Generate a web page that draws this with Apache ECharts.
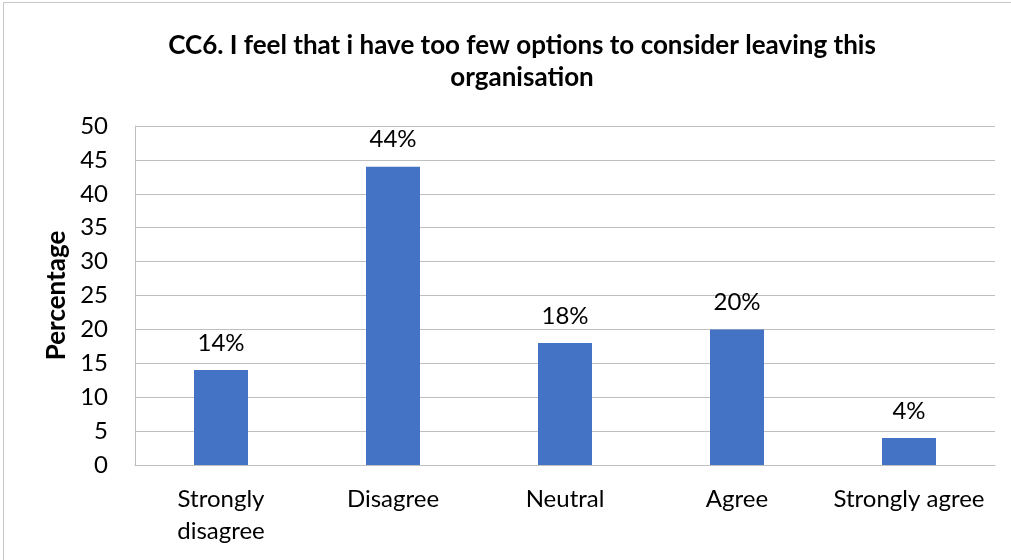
<!DOCTYPE html>
<html>
<head>
<meta charset="utf-8">
<script src="https://cdn.jsdelivr.net/npm/echarts@6/dist/echarts.min.js"></script>
<style>
  html, body { margin: 0; padding: 0; background: #fff; }
  #frame { position: absolute; left: 3px; top: 2px; width: 1030px; height: 580px; border: 1px solid #c8c8c8; }
  #chart { position: absolute; left: 0; top: 0; width: 1011px; height: 560px; }
</style>
</head>
<body>
<div id="frame"></div>
<div id="chart"></div>
<script>
const categories = ['Strongly\ndisagree', 'Disagree', 'Neutral', 'Agree', 'Strongly agree'];
const percentages = [14, 44, 18, 20, 4];
const titleText = 'CC6. I feel that i have too few options to consider leaving this\norganisation';

const font = 'Lato, "Open Sans", sans-serif';
const myChart = echarts.init(document.getElementById('chart'));
const option = {
  backgroundColor: 'transparent',
  animation: false,
  title: {
    text: titleText,
    left: 517,
    top: 25,
    textAlign: 'center',
    textStyle: {
      fontFamily: font,
      fontWeight: 'bold',
      fontSize: 26,
      lineHeight: 32,
      color: '#000'
    }
  },
  grid: {
    left: 135,
    right: 16,
    top: 126,
    bottom: 95
  },
  xAxis: {
    type: 'category',
    data: categories,
    axisTick: { show: false },
    axisLine: { lineStyle: { color: '#bfbfbf', width: 1 } },
    axisLabel: {
      color: '#000',
      fontFamily: font,
      fontSize: 24,
      lineHeight: 32,
      margin: 18,
      interval: 0
    }
  },
  yAxis: {
    type: 'value',
    min: 0,
    max: 50,
    interval: 5,
    name: 'Percentage',
    nameLocation: 'middle',
    nameGap: 64,
    nameTextStyle: {
      fontFamily: font,
      fontWeight: 'bold',
      fontSize: 26,
      color: '#000'
    },
    axisLine: { show: true, lineStyle: { color: '#bfbfbf', width: 1 } },
    axisTick: { show: false },
    splitLine: { lineStyle: { color: '#bfbfbf', width: 1 } },
    axisLabel: {
      color: '#000',
      fontFamily: font,
      fontSize: 24,
      margin: 27
    }
  },
  series: [{
    type: 'bar',
    data: percentages,
    barWidth: 54,
    itemStyle: { color: '#4472c4' },
    label: {
      show: true,
      position: 'top',
      distance: 15,
      formatter: '{c}%',
      color: '#000',
      fontFamily: font,
      fontSize: 24
    }
  }]
};
myChart.setOption(option);
</script>
</body>
</html>
